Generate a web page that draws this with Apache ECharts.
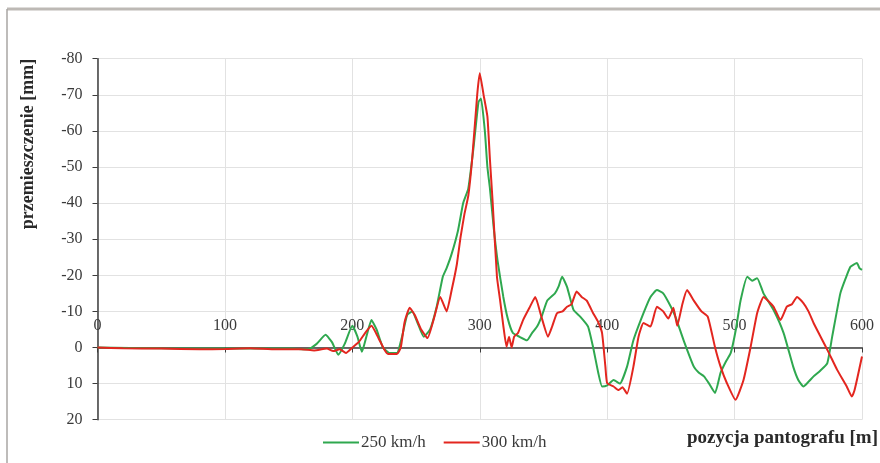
<!DOCTYPE html>
<html>
<head>
<meta charset="utf-8">
<script src="https://cdn.jsdelivr.net/npm/echarts@6/dist/echarts.min.js"></script>
<style>
  html, body { margin: 0; padding: 0; background: #ffffff; }
  #chart { width: 880px; height: 463px; }
</style>
</head>
<body>
<div id="chart"></div>
<script>
// Pantograph position [m] and displacement [mm] for each speed
const pos250 = [0, 50, 100, 150, 165, 172, 179, 184, 189, 194, 200, 204, 207.5, 211, 215, 219, 224, 229, 235, 239, 243, 247, 251, 256, 261, 266, 271, 274, 278, 283, 287, 291, 295, 299, 301, 304, 306, 308, 311, 314, 318.5, 322, 326, 331, 337, 341, 345, 349, 353, 359, 362, 364.6, 368.5, 373.6, 379, 385, 389, 393, 396, 400, 405, 410, 415.6, 420.6, 428.5, 434, 439, 444, 450, 453.6, 460, 468, 472, 476, 480, 484.7, 489, 493, 497, 501, 504.7, 510, 514, 517.7, 522.7, 530.6, 538.5, 546, 550, 554, 558, 562, 567, 572.7, 576.6, 583, 587, 591, 596, 598, 600];
const disp250 = [0, 0.2, 0.3, 0.3, 0.5, -1, -3.5, -1.5, 2, -1, -6, -3, 1.2, -3, -7.6, -5, 0, 1.5, 1.5, -3, -9, -10, -7, -3, -5, -11, -19.6, -22, -26, -32.5, -40, -44, -55, -68, -69, -60, -50, -44, -33, -24, -14, -8, -4, -3, -2, -4, -5.8, -9, -13, -15, -17, -19.6, -16.8, -10.4, -8.5, -5.8, 0, 7, 10.8, 10.5, 9, 10, 5.3, -2, -9.5, -14, -15.9, -15, -11.3, -8.5, -2, 5.3, 7, 8, 10, 12.6, 7, 4, 1.5, -5, -13, -19.6, -18.5, -19.2, -15, -10.4, -4, 5.3, 9, 10.8, 9.5, 8, 6.5, 4.4, -3, -15, -19, -22.4, -23.4, -22, -21.5];

const pos300 = [0, 20, 50, 80, 100, 120, 140, 160, 170, 180, 185, 190, 195, 200, 205, 210, 215, 220, 225, 228, 235, 238, 241, 245, 249, 254, 259, 264, 269, 274, 278, 282, 285, 288, 291, 294, 298, 300, 303, 306, 308, 310, 313.5, 316, 318.5, 321, 323, 325, 327, 330, 334, 339, 343.6, 348, 353.6, 357, 360.6, 365, 368.5, 372, 376, 380, 384, 389, 393, 396, 398.6, 400, 405, 409, 412, 415.6, 420.6, 424.6, 428.5, 434, 439, 444, 448, 452, 455, 459, 462.7, 468, 474, 479, 484.7, 489, 494, 500.7, 507, 512.5, 517.7, 522.7, 526, 530.6, 536, 541, 545, 549, 554, 558, 562, 567.5, 574, 580.5, 588, 592, 594, 596, 600];
const disp300 = [0, 0.2, 0.3, 0.5, 0.4, 0.2, 0.5, 0.5, 0.8, 0.3, 1, 0.5, 1.5, 0, -1.5, -4, -6, -3, 0.5, 1.8, 1.8, 0, -7, -11, -9, -5, -2.6, -8, -14, -10, -16, -23, -30.7, -37, -42, -52, -70, -76, -70, -64, -52, -41, -19.6, -13, -6, -0.2, -3, 0, -3, -4, -7.6, -11, -14, -9, -3, -6, -9.5, -10, -11.3, -12, -15.5, -14, -13, -9.5, -7, -4, 5.3, 9.9, 10.8, 11.8, 11, 12.8, 5.3, -3, -6.8, -5.8, -11.3, -10, -8, -11, -6, -12, -15.9, -13, -10, -8.5, 0, 5.3, 9.9, 14.5, 9, 0, -9.5, -14, -13, -11.3, -7.6, -11.3, -12, -14, -12.3, -10, -6.8, -3, 1.5, 6.2, 10.8, 13.6, 12, 9, 2.5];

const seriesNames = ['250 km/h', '300 km/h'];
const seriesColors = ['#2fa84f', '#e3261f'];

const SERIF = "'Liberation Serif', 'Times New Roman', serif";
const TEXT_COLOR = '#3a3a3a';

const zip = (xs, ys) => xs.map((x, i) => [x, ys[i]]);

const chart = echarts.init(document.getElementById('chart'), null, { renderer: 'canvas' });

chart.setOption({
  animation: false,
  backgroundColor: '#ffffff',
  grid: { left: 97.5, right: 18, top: 58.7, bottom: 43.3, containLabel: false },
  legend: {
    data: seriesNames,
    left: 318,
    top: 429,
    itemWidth: 36,
    itemHeight: 2,
    itemGap: 18,
    icon: 'rect',
    textStyle: { fontFamily: SERIF, fontSize: 17, color: TEXT_COLOR, padding: [0, 0, 0, -3] }
  },
  xAxis: {
    type: 'value',
    min: 0,
    max: 600,
    interval: 100,
    axisLine: { onZero: true, lineStyle: { color: '#3c3c3c', width: 1.5 } },
    axisTick: { show: true, inside: false, length: 5, lineStyle: { color: '#3c3c3c' } },
    axisLabel: { inside: true, margin: 86, fontFamily: SERIF, fontSize: 16, color: TEXT_COLOR },
    splitLine: { show: true, lineStyle: { color: '#e2e2e2', width: 1 } }
  },
  yAxis: {
    type: 'value',
    min: -80,
    max: 20,
    interval: 10,
    inverse: true,
    axisLine: { show: true, onZero: false, lineStyle: { color: '#3c3c3c', width: 1.5 } },
    axisTick: { show: true, inside: false, length: 5, lineStyle: { color: '#3c3c3c' } },
    axisLabel: { margin: 15, fontFamily: SERIF, fontSize: 16, color: TEXT_COLOR },
    splitLine: { show: true, lineStyle: { color: '#e2e2e2', width: 1 } }
  },
  graphic: [
    // outer frame: top and left edges
    { type: 'line', shape: { x1: 7, y1: 9, x2: 880, y2: 9 }, style: { stroke: '#bdb9b5', lineWidth: 3 }, z: 10 },
    { type: 'line', shape: { x1: 7, y1: 9, x2: 7, y2: 463 }, style: { stroke: '#a9a6a3', lineWidth: 1.5 }, z: 10 },
    // axis titles
    {
      type: 'text', x: 28, y: 144, rotation: Math.PI / 2,
      style: { text: 'przemieszczenie [mm]', font: 'bold 18px ' + SERIF, fill: '#2a2a2a', textAlign: 'center', textVerticalAlign: 'middle' }
    },
    {
      type: 'text', x: 878, y: 438,
      style: { text: 'pozycja pantografu [m]', font: 'bold 19px ' + SERIF, fill: '#2a2a2a', textAlign: 'right', textVerticalAlign: 'middle' }
    }
  ],
  series: [
    {
      name: seriesNames[0], type: 'line', data: zip(pos250, disp250),
      showSymbol: false, symbol: 'none', smooth: 0.15,
      lineStyle: { color: seriesColors[0], width: 2 }, itemStyle: { color: seriesColors[0] }, z: 2
    },
    {
      name: seriesNames[1], type: 'line', data: zip(pos300, disp300),
      showSymbol: false, symbol: 'none', smooth: 0.15,
      lineStyle: { color: seriesColors[1], width: 2 }, itemStyle: { color: seriesColors[1] }, z: 3
    }
  ]
});
</script>
</body>
</html>
